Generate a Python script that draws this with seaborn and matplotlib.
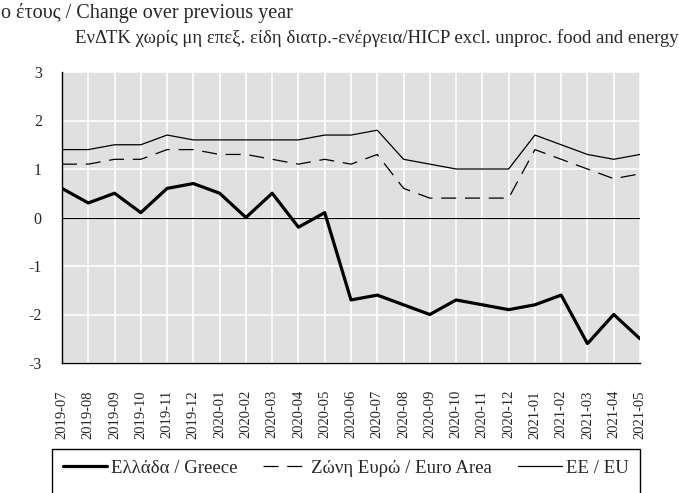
import numpy as np
import pandas as pd
import seaborn as sns
import matplotlib
matplotlib.use("Agg")
import matplotlib.pyplot as plt
from matplotlib.patches import Rectangle

# data
months = ['2019-07', '2019-08', '2019-09', '2019-10', '2019-11', '2019-12',
          '2020-01', '2020-02', '2020-03', '2020-04', '2020-05', '2020-06',
          '2020-07', '2020-08', '2020-09', '2020-10', '2020-11', '2020-12',
          '2021-01', '2021-02', '2021-03', '2021-04', '2021-05']
greece = [0.6, 0.3, 0.5, 0.1, 0.6, 0.7, 0.5, 0.0, 0.5, -0.2, 0.1, -1.7,
          -1.6, -1.8, -2.0, -1.7, -1.8, -1.9, -1.8, -1.6, -2.6, -2.0, -2.5]
euro_area = [1.1, 1.1, 1.2, 1.2, 1.4, 1.4, 1.3, 1.3, 1.2, 1.1, 1.2, 1.1,
             1.3, 0.6, 0.4, 0.4, 0.4, 0.4, 1.4, 1.2, 1.0, 0.8, 0.9]
eu = [1.4, 1.4, 1.5, 1.5, 1.7, 1.6, 1.6, 1.6, 1.6, 1.6, 1.7, 1.7,
      1.8, 1.2, 1.1, 1.0, 1.0, 1.0, 1.7, 1.5, 1.3, 1.2, 1.3]
labels = ['Ελλάδα / Greece', 'Ζώνη Ευρώ / Euro Area', 'ΕΕ / EU']
y_ticks = [-3, -2, -1, 0, 1, 2, 3]

sns.set_style('whitegrid', {
    'axes.facecolor': '#e0e0e0',
    'grid.color': 'white',
    'axes.edgecolor': 'black',
})
plt.rcParams['font.family'] = ['Liberation Serif', 'DejaVu Serif']
plt.rcParams['font.size'] = 13
plt.rcParams['axes.unicode_minus'] = False

df = pd.DataFrame({'x': np.arange(len(months)), 'gr': greece, 'ea': euro_area, 'eu': eu})

W, H = 679, 493
fig = plt.figure(figsize=(W / 100, H / 100), dpi=100)
ax = fig.add_axes([62 / W, 1 - 363 / H, 578 / W, 291 / H])

sns.lineplot(data=df, x='x', y='gr', ax=ax, color='black', lw=2.3, label=labels[0])
sns.lineplot(data=df, x='x', y='ea', ax=ax, color='black', lw=0.9, label=labels[1])
ax.lines[-1].set_dashes((12, 7))
sns.lineplot(data=df, x='x', y='eu', ax=ax, color='black', lw=0.9, label=labels[2])
ax.axhline(0, color='black', lw=0.8, zorder=1.5)

ax.set_xlim(0, len(months) - 1)
ax.set_ylim(-3, 3)
ax.set_yticks(y_ticks)
ax.set_xticks(df['x'])
ax.set_xticklabels(months, rotation=90)
ax.tick_params(axis='x', pad=16, labelsize=10.5)
ax.tick_params(axis='y', pad=11, labelsize=11.5)
ax.set_xlabel('')
ax.set_ylabel('')
ax.grid(True, color='white', lw=1.2)
for side in ['top', 'right']:
    ax.spines[side].set_visible(False)
for side in ['left', 'bottom']:
    ax.spines[side].set_color('black')
    ax.spines[side].set_linewidth(1.0)

fig.text(1 / W, 1 - 13 / H, 'ο έτους / Change over previous year',
         ha='left', va='center', fontsize=14.5)
fig.text(75 / W, 1 - 38 / H,
         'ΕνΔΤΚ χωρίς μη επεξ. είδη διατρ.-ενέργεια/HICP excl. unproc. food and energy',
         ha='left', va='center', fontsize=13.5)

# legend box runs off the bottom edge, as in the reference
fig.patches.append(Rectangle((52 / W, -0.05), 588 / W, 1 - 449 / H + 0.05,
                             transform=fig.transFigure, facecolor='white',
                             edgecolor='black', lw=1.0, zorder=0))

ax.get_legend().remove()
handles, _ = ax.get_legend_handles_labels()
leg = fig.legend(handles, labels, ncol=3, loc='upper left',
                 bbox_to_anchor=(52 / W, 1 - 449 / H, 588 / W, 0.001),
                 mode='expand', frameon=False, fontsize=13.5,
                 handlelength=2.35, borderpad=0.6, handletextpad=0.2,
                 borderaxespad=0)

fig.savefig('out.png', dpi=100)
